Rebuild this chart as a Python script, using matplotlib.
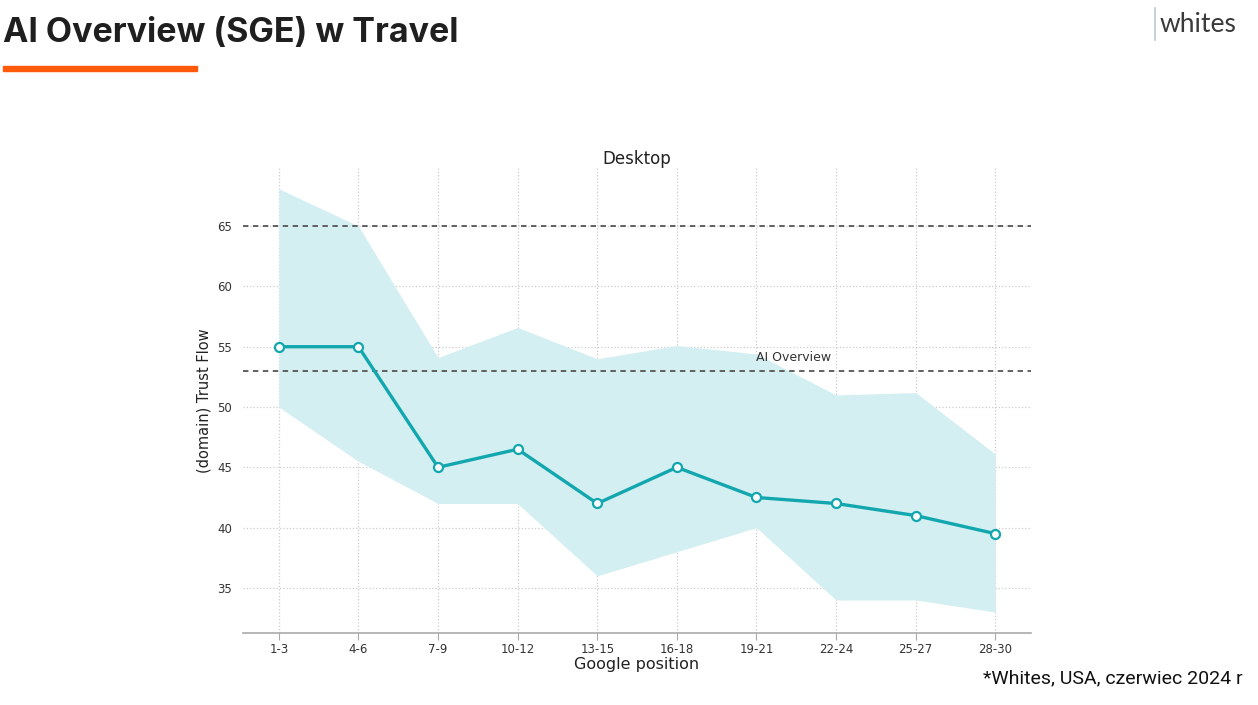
import matplotlib.pyplot as plt

positions = ["1-3", "4-6", "7-9", "10-12", "13-15", "16-18", "19-21", "22-24", "25-27", "28-30"]
trust_flow = [55, 55, 45, 46.5, 42, 45, 42.5, 42, 41, 39.5]
band_upper = [68.1, 65, 54.1, 56.6, 54, 55.1, 54.4, 51, 51.2, 46.1]
band_lower = [50, 45.5, 42, 42, 36, 38, 40, 34, 34, 33]
ai_overview_level = 53
top_level = 65

teal = "#12A7AE"
band = "#D3EFF1"


def main():
    fig = plt.figure(figsize=(12.58, 7.05), dpi=100)
    fig.patch.set_facecolor("white")

    # page header
    fig.text(0.002, 0.953, "AI Overview (SGE) w Travel", fontsize=24.5, fontweight="bold",
             family="Inter", color="#1f1f1f", va="center", ha="left")
    fig.patches.append(plt.Rectangle((0.0024, 0.8993), 0.154, 0.0075, transform=fig.transFigure,
                                     color="#FF5A0A", figure=fig))
    fig.add_artist(plt.Line2D([0.9185, 0.9185], [0.943, 0.988], transform=fig.transFigure,
                              color="#b9c9d3", lw=1.2))
    fig.text(0.922, 0.965, "whites", fontsize=19, family="Lato", color="#3a3a3a",
             va="center", ha="left")
    fig.text(0.988, 0.038, "*Whites, USA, czerwiec 2024 r", fontsize=14, family="Roboto",
             color="#111111", ha="right", va="center")

    ax = fig.add_axes([0.1932, 0.1021, 0.6264, 0.6596])
    x = list(range(len(positions)))

    ax.fill_between(x, band_lower, band_upper, color=band, lw=0, zorder=1)
    ax.plot(x, trust_flow, color=teal, lw=2.4, marker="o", markersize=6.5,
            markerfacecolor="white", markeredgecolor=teal, markeredgewidth=1.6, zorder=4)

    ax.axhline(top_level, color="#555555", ls=(0, (3, 2.5)), lw=1.3, zorder=3)
    ax.axhline(ai_overview_level, color="#555555", ls=(0, (3, 2.5)), lw=1.3, zorder=3)
    ax.text(6, ai_overview_level + 0.55, "AI Overview", fontsize=9, color="#333333",
            ha="left", va="bottom", zorder=5)

    ax.set_xlim(-0.45, 9.45)
    ax.set_ylim(31.26, 69.82)
    ax.set_xticks(x)
    ax.set_xticklabels(positions)
    ax.set_yticks([35, 40, 45, 50, 55, 60, 65])
    ax.grid(True, color="#cccccc", ls=":", lw=0.9, zorder=0)
    ax.set_axisbelow(True)

    for s in ["top", "right", "left"]:
        ax.spines[s].set_visible(False)
    ax.spines["bottom"].set_color("#aaaaaa")
    ax.spines["bottom"].set_linewidth(1.2)
    ax.tick_params(axis="x", colors="#aaaaaa", length=5, labelsize=8.5, labelcolor="#333333", pad=2)
    ax.tick_params(axis="y", length=0, labelsize=8.5, labelcolor="#333333", pad=8)

    ax.set_title("Desktop", fontsize=12, color="#222222", pad=2)
    ax.set_xlabel("Google position", fontsize=11.5, color="#222222", labelpad=1)
    ax.set_ylabel("(domain) Trust Flow", fontsize=10.5, color="#222222", labelpad=4)

    plt.savefig("out.png", dpi=100)


if __name__ == "__main__":
    main()
